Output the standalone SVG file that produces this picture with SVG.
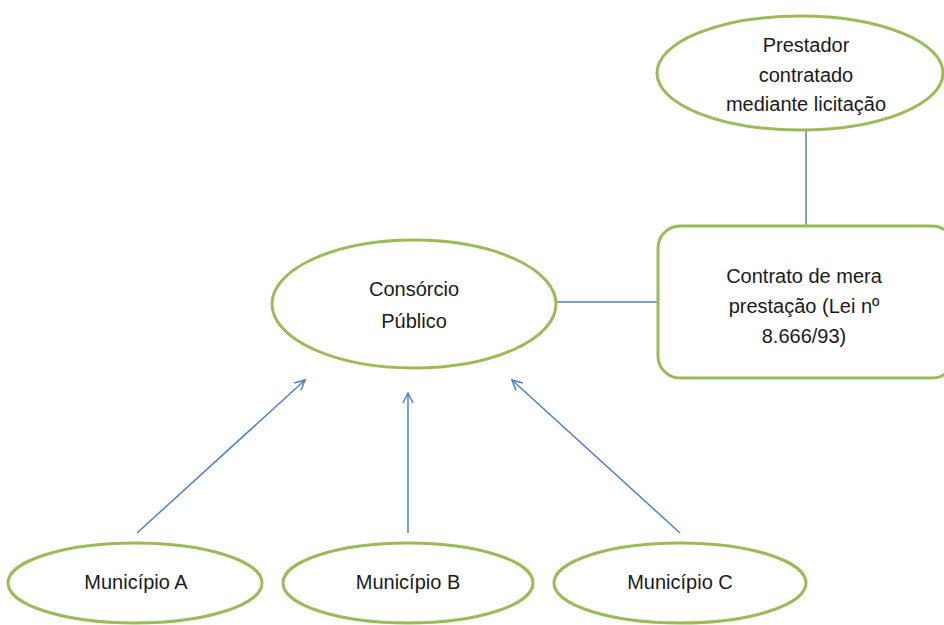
<svg xmlns="http://www.w3.org/2000/svg" width="944" height="625" viewBox="0 0 944 625">
<style>
.n{fill:#fff;stroke:#9bbb59;stroke-width:3}
.c{stroke:#4f81bd;stroke-width:1.5;fill:none}
text{font-family:"Liberation Sans",Arial,sans-serif;font-size:20px;fill:#1a1a1a;text-anchor:middle}
</style>
<defs>
<marker id="a" viewBox="0 0 12 12" refX="11" refY="6" markerWidth="12" markerHeight="12" markerUnits="userSpaceOnUse" orient="auto">
<path d="M1,1 L11,6 L1,11" fill="none" stroke="#4f81bd" stroke-width="1.5"/>
</marker>
</defs>
<rect width="944" height="625" fill="#fff"/>
<g id="connectors">
<line class="c" x1="806" y1="130" x2="806" y2="226"/>
<line class="c" x1="556" y1="302" x2="658" y2="302"/>
<line class="c" x1="137" y1="533" x2="305" y2="380" marker-end="url(#a)"/>
<line class="c" x1="408" y1="533" x2="408" y2="393" marker-end="url(#a)"/>
<line class="c" x1="680" y1="533" x2="512" y2="380" marker-end="url(#a)"/>
</g>
<g id="prestador">
<ellipse class="n" cx="800" cy="73" rx="143" ry="57"/>
<text x="806" y="52">Prestador</text>
<text x="806" y="82">contratado</text>
<text x="806" y="111">mediante licitação</text>
</g>
<g id="contrato">
<rect class="n" x="658" y="226" width="296" height="152" rx="22"/>
<text x="804" y="283">Contrato de mera</text>
<text x="804" y="313">prestação (Lei nº</text>
<text x="804" y="343">8.666/93)</text>
</g>
<g id="consorcio">
<ellipse class="n" cx="414" cy="304" rx="142" ry="64"/>
<text x="414" y="296">Consórcio</text>
<text x="414" y="328">Público</text>
</g>
<g id="municipioA">
<ellipse class="n" cx="135" cy="583" rx="127" ry="40"/>
<text x="136" y="589">Município A</text>
</g>
<g id="municipioB">
<ellipse class="n" cx="408" cy="583" rx="125" ry="40"/>
<text x="408" y="589">Município B</text>
</g>
<g id="municipioC">
<ellipse class="n" cx="680" cy="583" rx="126" ry="40"/>
<text x="680" y="589">Município C</text>
</g>
</svg>
